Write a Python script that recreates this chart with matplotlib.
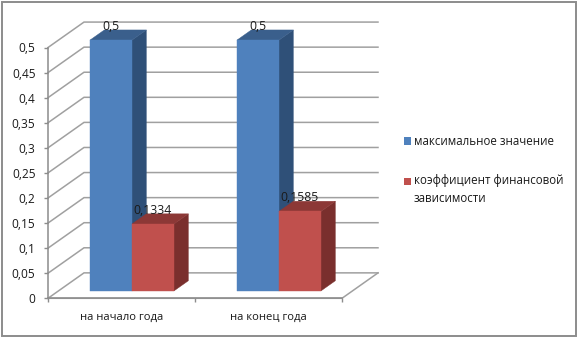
import matplotlib
matplotlib.use("Agg")
import matplotlib.pyplot as plt
from matplotlib.patches import Rectangle

plt.rcParams['font.family'] = ['Open Sans', 'DejaVu Sans']

categories = ['на начало года', 'на конец года']
series_names = ['максимальное значение', 'коэффициент финансовой\nзависимости']
max_values = [0.5, 0.5]
ratio_values = [0.1334, 0.1585]
value_labels_max = ['0,5', '0,5']
value_labels_ratio = ['0,1334', '0,1585']
y_ticks = [0, 0.05, 0.1, 0.15, 0.2, 0.25, 0.3, 0.35, 0.4, 0.45, 0.5]
y_tick_labels = ['0', '0,05', '0,1', '0,15', '0,2', '0,25', '0,3', '0,35', '0,4', '0,45', '0,5']
series_colors = ['#4f81bd', '#c0504d']

W, H = 577, 337
fig = plt.figure(figsize=(W / 100, H / 100), dpi=100, facecolor='white')
fig.add_artist(Rectangle((1.5 / W, 1.5 / H), (W - 3) / W, (H - 3) / H, transform=fig.transFigure,
                         fill=False, edgecolor='#8c8c8c', linewidth=1.4))

left, right, top, bottom = 48, 342, 47.5, 298.3
ax = fig.add_axes([left / W, 1 - bottom / H, (right - left) / W, (bottom - top) / H])
ax.set_xlim(0, 2)
ax.set_ylim(0, 0.5)
ax.patch.set_visible(False)

# oblique projection: depth in [0, 1] shifts points right and up
DX = 36 / 147
DY = 25.5 / 503.0


def proj(x, y, d):
    return x + DX * d, y + DY * d


GRID = '#a0a0a0'
for v in y_ticks:
    xs, ys = zip(proj(0, v, 0), proj(0, v, 1), proj(2, v, 1))
    ax.plot(xs, ys, color=GRID, lw=1.1, clip_on=False, zorder=1, solid_joinstyle='miter')
xs, ys = zip(proj(0, 0, 0), proj(2, 0, 0), proj(2, 0, 1))
ax.plot(xs, ys, color=GRID, lw=1.1, clip_on=False, zorder=1)

BAR_W = 2 / 7
D0, D1 = 0.29, 0.69


def bar(x0, val, front, side, topc, z):
    x1 = x0 + BAR_W
    pts_side = [proj(x1, 0, D0), proj(x1, 0, D1), proj(x1, val, D1), proj(x1, val, D0)]
    pts_top = [proj(x0, val, D0), proj(x1, val, D0), proj(x1, val, D1), proj(x0, val, D1)]
    pts_front = [proj(x0, 0, D0), proj(x1, 0, D0), proj(x1, val, D0), proj(x0, val, D0)]
    for pts, c in ((pts_side, side), (pts_top, topc), (pts_front, front)):
        ax.fill(*zip(*pts), facecolor=c, edgecolor=c, lw=0.3, clip_on=False, zorder=z)


def label(x0, val, text):
    x, y = proj(x0 + BAR_W / 2, val, D0)
    ax.annotate(text, (x, y), xytext=(0, 9.8), textcoords='offset points', ha='center', va='center',
                fontsize=8.8, color='#1a1a1a', zorder=10, annotation_clip=False)


for i in range(len(categories)):
    x0 = i + 3 / 14
    bar(x0, max_values[i], series_colors[0], '#2f5078', '#3a5f8c', 3 + i)
    bar(x0 + BAR_W, ratio_values[i], series_colors[1], '#7a2f2d', '#8c3836', 3.5 + i)
    label(x0, max_values[i], value_labels_max[i])
    label(x0 + BAR_W, ratio_values[i], value_labels_ratio[i])

for s in ('top', 'right'):
    ax.spines[s].set_visible(False)
for s in ('left', 'bottom'):
    ax.spines[s].set_color('#8c8c8c')
    ax.spines[s].set_linewidth(1.1)

ax.set_yticks(y_ticks)
ax.set_yticklabels(y_tick_labels, fontsize=8.6, color='#1a1a1a')
ax.tick_params(axis='y', length=3, width=1, color='#8c8c8c', pad=6)
ax.set_xticks([0, 1, 2])
ax.set_xticklabels([])
ax.tick_params(axis='x', which='major', length=3, width=1, color='#8c8c8c')
ax.set_xticks([0.5, 1.5], minor=True)
ax.set_xticklabels(categories, minor=True, fontsize=8.1, color='#1a1a1a')
ax.tick_params(axis='x', which='minor', length=0, pad=9.5)

# legend: first text line of each entry is aligned with its square
legend_rows = [141, 181]
for name, color, row in zip(series_names, series_colors, legend_rows):
    fig.add_artist(Rectangle((404 / W, 1 - (row + 3.5) / H), 7 / W, 7 / H, transform=fig.transFigure,
                             facecolor=color, edgecolor='none'))
    fig.text(414 / W, 1 - (row - 6.5) / H, name, fontsize=8.3, color='#1a1a1a', ha='left', va='top',
             linespacing=1.45)

fig.savefig('out.png', dpi=100)
